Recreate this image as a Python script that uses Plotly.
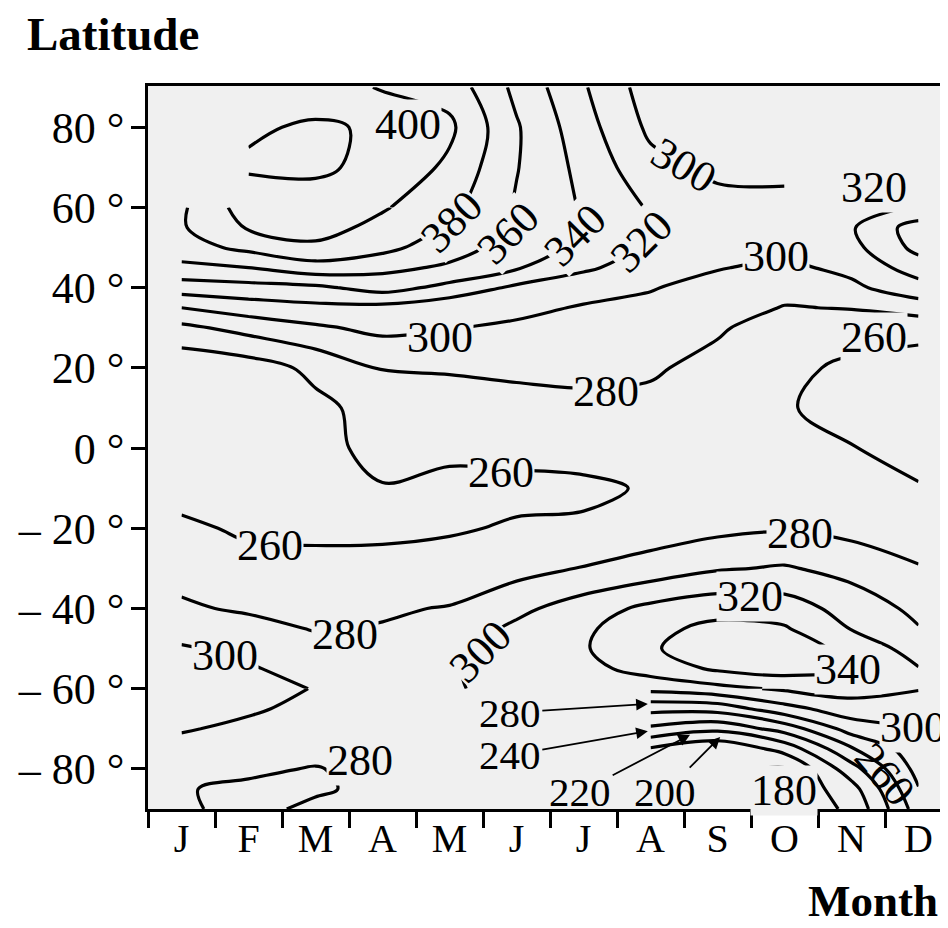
import numpy as np
import plotly.graph_objects as go

# ---------------- data (total ozone, Dobson units) ----------------
month_labels = ["J", "F", "M", "A", "M", "J", "J", "A", "S", "O", "N", "D"]
month_pos = list(range(12))
latitudes = [90, 80, 70, 60, 55, 50, 45, 40, 35, 30, 20, 10, 0, -10, -20,
             -30, -40, -45, -50, -55, -60, -65, -70, -75, -80, -85, -90]

# one column per month, values from north pole to south pole
jan = [360, 365, 372, 377, 378, 372, 355, 330, 300, 275, 245, 243, 241, 248, 266,
       275, 282, 292, 302, 310, 315, 310, 302, 292, 284, 281, 282]
feb = [410, 418, 422, 410, 402, 385, 360, 333, 310, 287, 250, 243, 241, 244, 255,
       270, 278, 285, 295, 302, 308, 303, 295, 289, 283, 277, 276]
mar = [412, 422, 423, 412, 408, 396, 372, 336, 315, 297, 265, 255, 254, 248, 254,
       268, 274, 279, 286, 292, 299, 294, 290, 286, 279, 278, 283]
apr = [398, 418, 415, 402, 394, 386, 365, 348, 314, 305, 281, 268, 266, 259, 256,
       266, 278, 281, 285, 289, 292, 292, 291, 289, 286, 284, 283]
may = [392, 404, 396, 386, 378, 368, 357, 334, 306, 301, 282, 270, 265, 254, 258,
       268, 281, 288, 294, 298, 299, 296, 293, 291, 289, 287, 286]
jun = [355, 362, 361, 358, 356, 352, 342, 316, 306, 296, 284, 273, 266, 255, 262,
       273, 295, 304, 309, 309, 303, 297, 295, 294, 292, 290, 289]
jul = [322, 328, 334, 338, 337, 334, 323, 309, 298, 293, 284, 276, 268, 256, 263,
       281, 310, 316, 318, 313, 304, 297, 293, 291, 289, 287, 285]
aug = [290, 296, 306, 318, 319, 316, 311, 301, 296, 292, 282, 276, 270, 262, 270,
       288, 325, 335, 338, 329, 306, 266, 236, 198, 194, 196, 199]
sep = [285, 290, 296, 306, 308, 306, 301, 294, 289, 282, 275, 270, 268, 266, 275,
       298, 333, 345, 350, 343, 314, 268, 225, 183, 184, 192, 198]
octo = [280, 285, 293, 308, 311, 306, 296, 287, 279, 272, 265, 262, 263, 266, 278,
        302, 330, 342, 351, 349, 323, 293, 248, 207, 178, 182, 188]
nov = [290, 296, 299, 316, 318, 314, 305, 296, 281, 269, 256, 252, 261, 267, 274,
       293, 312, 319, 334, 339, 328, 311, 289, 258, 232, 212, 203]
dec = [290, 296, 303, 321, 350, 346, 330, 312, 290, 266, 252, 246, 250, 262, 272,
       281, 295, 301, 311, 321, 321, 310, 299, 293, 287, 279, 270]

contour_levels = dict(start=180, end=420, size=20)

lat_ticks = [80, 60, 40, 20, 0, -20, -40, -60, -80]
lat_ticktext = ["80 °", "60 °", "40 °", "20 °", "0 °", "– 20 °", "– 40 °", "– 60 °", "– 80 °"]

# contour labels as in the original drawing: (text, month, latitude, angle)
contour_labels = [
    ("400", 3.38, 80.8, 0), ("380", 4.04, 56.4, -45), ("360", 4.87, 53.6, -45),
    ("340", 5.87, 53.1, -45), ("320", 6.87, 51.4, -45), ("300", 7.5, 70.6, 30),
    ("300", 8.87, 47.9, 0), ("320", 10.34, 64.9, 0), ("300", 3.86, 27.5, 0),
    ("280", 6.34, 14.0, 0), ("260", 10.34, 27.5, 0), ("260", 4.77, -6.0, 0),
    ("260", 1.32, -24.2, 0), ("280", 2.44, -46.4, 0), ("300", 0.65, -51.6, 0),
    ("300", 4.46, -50.6, -45), ("280", 9.23, -21.2, 0), ("320", 8.49, -37.1, 0),
    ("340", 9.95, -55.3, 0), ("300", 10.92, -69.6, 0), ("180", 8.99, -85.3, 0),
    ("280", 2.66, -77.8, 0),
]
dense_labels = [("260", 10.5, -81.3, 50)]
# arrow labels: (text, text month, text lat, tip month, tip lat)
arrow_labels = [
    ("280", 4.90, -66.0, 6.96, -63.8),
    ("240", 4.90, -76.6, 6.96, -70.6),
    ("220", 5.95, -85.8, 7.59, -71.5),
    ("200", 7.22, -85.8, 8.04, -72.05),
]

# ---------------- figure ----------------
lat = np.array(latitudes[::-1])
z = np.array([jan, feb, mar, apr, may, jun, jul, aug, sep, octo, nov, dec], dtype=float).T[::-1]
xm = np.array(month_pos)

# data blocks (polar-night areas carry no isolines in the original)
main_rows = (lat >= -60) & (lat <= 60)
north_rows = lat >= 60
south_rows = lat <= -60
blocks = [
    (main_rows, slice(0, 12)),
    (north_rows, slice(1, 10)),
    (south_rows, slice(0, 5)),
    (south_rows, slice(7, 12)),
]


def contour(xs, ys, zz):
    return go.Contour(
        x=xs, y=ys, z=zz,
        contours=dict(**contour_levels, coloring="none", showlabels=False),
        line=dict(color="black", width=3.2, smoothing=1.0),
        showscale=False, hoverinfo="skip",
    )


fig = go.Figure()
for rows, cols in blocks:
    fig.add_trace(contour(xm[cols], lat[rows], z[rows][:, cols]))

SERIF = "Liberation Serif"
BG = "#f0f0f0"
annotations = []
for t, mx, la, ang in contour_labels:
    annotations.append(dict(x=mx, y=la, xref="x", yref="y", text=t, showarrow=False,
                            textangle=ang, bgcolor=BG, borderpad=0,
                            font=dict(family=SERIF, size=44, color="black")))
for t, mx, la, ang in dense_labels:
    annotations.append(dict(x=mx, y=la, xref="x", yref="y", text=t, showarrow=False,
                            textangle=ang, font=dict(family=SERIF, size=44, color="black")))
for t, tx, ty, hx, hy in arrow_labels:
    annotations.append(dict(x=hx, y=hy, xref="x", yref="y", ax=tx, ay=ty, axref="x", ayref="y",
                            text=t, showarrow=True, arrowhead=2, arrowsize=1.3, arrowwidth=1.8,
                            arrowcolor="black", standoff=0,
                            font=dict(family=SERIF, size=41, color="black")))
annotations.append(dict(x=-0.154, y=1.072, xref="paper", yref="paper", xanchor="left",
                        yanchor="middle", text="<b>Latitude</b>", showarrow=False,
                        font=dict(family=SERIF, size=47, color="black")))
annotations.append(dict(x=0.99, y=-0.127, xref="paper", yref="paper", xanchor="right",
                        yanchor="middle", text="<b>Month</b>", showarrow=False,
                        font=dict(family=SERIF, size=45, color="black")))

fig.update_layout(
    width=940, height=920,
    margin=dict(l=140, r=0, t=78, b=119),
    paper_bgcolor="white", plot_bgcolor=BG,
    showlegend=False,
    font=dict(family=SERIF, color="black"),
    annotations=annotations,
    xaxis=dict(range=[-0.5, 11.44], tickmode="array", tickvals=month_pos, ticktext=month_labels,
               ticks="", showline=True, linecolor="black", linewidth=2.5, mirror=True,
               showgrid=False, zeroline=False, tickfont=dict(family=SERIF, size=40, color="black"),
               ticklabelstandoff=-8,
               minor=dict(tickmode="array", tickvals=[i - 0.5 for i in range(13)], ticks="outside",
                          ticklen=16, tickwidth=2.5, tickcolor="black", showgrid=False)),
    yaxis=dict(range=[-90, 90.3], tickmode="array", tickvals=lat_ticks, ticktext=lat_ticktext,
               ticks="outside", ticklen=14, tickwidth=2.5, tickcolor="black",
               showline=True, linecolor="black", linewidth=2.5, mirror=False,
               showgrid=False, zeroline=False, tickfont=dict(family=SERIF, size=44, color="black"),
               ticklabelstandoff=-2),
)

fig.write_html("out.html")
